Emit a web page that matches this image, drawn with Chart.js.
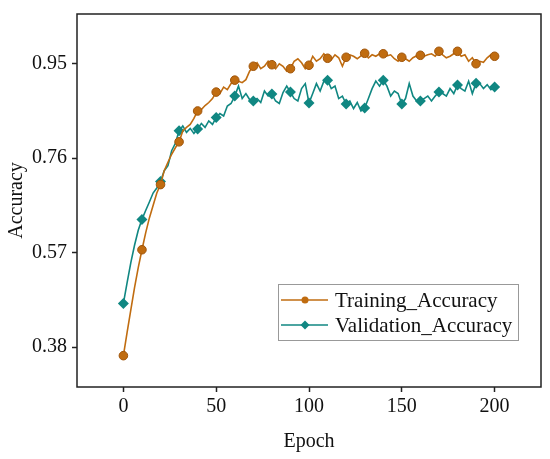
<!DOCTYPE html>
<html>
<head>
<meta charset="utf-8">
<script src="https://cdn.jsdelivr.net/npm/chart.js@4.4.1/dist/chart.umd.min.js"></script>
<style>
  body { margin: 0; background: #fff; }
  #wrap { width: 550px; height: 459px; }
</style>
</head>
<body>
<div id="wrap"><canvas id="accChart" width="550" height="459"></canvas></div>
<script>
// epochs sampled every 2, markers every 10
const epochs = [];
for (let e = 0; e <= 200; e += 2) epochs.push(e);

const trainAcc = [
  0.363, 0.41, 0.455, 0.50, 0.54, 0.576, 0.61, 0.64, 0.665, 0.69,
  0.707, 0.735, 0.752, 0.768, 0.781, 0.793, 0.815, 0.822, 0.828, 0.84,
  0.855, 0.858, 0.866, 0.872, 0.88, 0.893, 0.89, 0.903, 0.898, 0.91,
  0.917, 0.915, 0.912, 0.918, 0.935, 0.945, 0.952, 0.94, 0.945, 0.955,
  0.948, 0.94, 0.95, 0.945, 0.935, 0.94, 0.955, 0.96, 0.952, 0.94,
  0.947, 0.965, 0.955, 0.96, 0.97, 0.961, 0.958, 0.968, 0.962, 0.945,
  0.963, 0.968, 0.965, 0.96, 0.966, 0.971, 0.962, 0.968, 0.965, 0.97,
  0.970, 0.966, 0.968, 0.96, 0.955, 0.963, 0.96, 0.955, 0.962, 0.966,
  0.967, 0.965, 0.968, 0.97, 0.965, 0.975, 0.968, 0.962, 0.965, 0.97,
  0.975, 0.965, 0.968, 0.955, 0.962, 0.950, 0.955, 0.953, 0.962, 0.968,
  0.965
];

const valAcc = [
  0.468, 0.51, 0.55, 0.585, 0.615, 0.637, 0.655, 0.672, 0.69, 0.70,
  0.713, 0.735, 0.745, 0.775, 0.79, 0.815, 0.825, 0.812, 0.82, 0.81,
  0.819, 0.83, 0.822, 0.835, 0.828, 0.842, 0.85, 0.845, 0.865, 0.87,
  0.885, 0.905, 0.88, 0.89, 0.878, 0.875, 0.88, 0.872, 0.895, 0.885,
  0.889, 0.875, 0.87, 0.892, 0.905, 0.893, 0.88, 0.875, 0.90, 0.91,
  0.871, 0.89, 0.91, 0.895, 0.915, 0.917, 0.90, 0.905, 0.88, 0.885,
  0.869, 0.875, 0.86, 0.872, 0.855, 0.861, 0.88, 0.90, 0.915, 0.905,
  0.917, 0.905, 0.885, 0.895, 0.89, 0.869, 0.88, 0.91, 0.885, 0.875,
  0.875, 0.88, 0.885, 0.875, 0.885, 0.893, 0.89, 0.885, 0.90, 0.89,
  0.907, 0.90, 0.895, 0.915, 0.89, 0.911, 0.91, 0.90, 0.908, 0.898,
  0.903
];

const xTicks = [0, 50, 100, 150, 200];
const yTicks = [0.38, 0.57, 0.76, 0.95];

const orange = 'rgb(192, 108, 16)';
const teal = 'rgb(16, 135, 130)';
const serif = '"Liberation Serif", "Times New Roman", serif';

function toPoints(vals) {
  return epochs.map((e, i) => ({ x: e, y: vals[i] }));
}

function markerSize(r) {
  return ctx => (epochs[ctx.dataIndex] % 10 === 0 ? r : 0);
}

// frame around plot area
const frame = {
  id: 'frame',
  afterDraw(chart) {
    const { ctx, chartArea: a } = chart;
    ctx.save();
    ctx.strokeStyle = '#222';
    ctx.lineWidth = 1.5;
    ctx.strokeRect(a.left, a.top, a.right - a.left, a.bottom - a.top);
    ctx.restore();
  }
};

// legend drawn inside the plot, lower right
const innerLegend = {
  id: 'innerLegend',
  afterDraw(chart) {
    const ctx = chart.ctx;
    const bx = 278, by = 284, bw = 240, bh = 56;
    ctx.save();
    ctx.fillStyle = '#fff';
    ctx.fillRect(bx, by, bw, bh);
    ctx.strokeStyle = '#999';
    ctx.lineWidth = 1;
    ctx.strokeRect(bx + 0.5, by + 0.5, bw, bh);
    ctx.font = '21px ' + serif;
    ctx.textBaseline = 'middle';
    chart.data.datasets.forEach((ds, i) => {
      const y = by + 16 + i * 25;
      ctx.strokeStyle = ds.borderColor;
      ctx.lineWidth = 1.5;
      ctx.beginPath();
      ctx.moveTo(bx + 3, y);
      ctx.lineTo(bx + 50, y);
      ctx.stroke();
      ctx.fillStyle = ds.borderColor;
      ctx.beginPath();
      const cx = bx + 27;
      if (ds.pointStyle === 'rectRot') {
        ctx.moveTo(cx, y - 4.5);
        ctx.lineTo(cx + 4.5, y);
        ctx.lineTo(cx, y + 4.5);
        ctx.lineTo(cx - 4.5, y);
        ctx.closePath();
      } else {
        ctx.arc(cx, y, 3.5, 0, Math.PI * 2);
      }
      ctx.fill();
      ctx.fillStyle = '#111';
      ctx.fillText(ds.label, bx + 57, y + 1);
    });
    ctx.restore();
  }
};

new Chart(document.getElementById('accChart'), {
  type: 'line',
  data: {
    datasets: [
      {
        label: 'Training_Accuracy',
        data: toPoints(trainAcc),
        borderColor: orange,
        backgroundColor: orange,
        borderWidth: 1.6,
        pointStyle: 'circle',
        pointRadius: markerSize(4.3),
        pointBorderColor: 'rgb(160, 85, 10)',
        pointBorderWidth: 1,
        tension: 0
      },
      {
        label: 'Validation_Accuracy',
        data: toPoints(valAcc),
        borderColor: teal,
        backgroundColor: teal,
        borderWidth: 1.6,
        pointStyle: 'rectRot',
        pointRadius: markerSize(5.5),
        pointBorderWidth: 0,
        tension: 0
      }
    ]
  },
  options: {
    responsive: false,
    animation: false,
    layout: { padding: { top: 14, right: 9, left: 0, bottom: 0 } },
    plugins: {
      legend: { display: false },
      tooltip: { enabled: false }
    },
    scales: {
      x: {
        type: 'linear',
        min: -25,
        max: 225,
        afterBuildTicks: s => { s.ticks = xTicks.map(v => ({ value: v })); },
        afterFit: s => { s.height = 72; s.paddingLeft = 0; s.paddingRight = 0; },
        grid: {
          drawOnChartArea: false,
          drawTicks: true,
          tickLength: 5,
          tickWidth: 1.5,
          tickColor: '#222'
        },
        border: { display: false },
        ticks: {
          padding: 3,
          color: '#111',
          font: { family: serif, size: 20 },
          maxRotation: 0
        },
        title: {
          display: true,
          text: 'Epoch',
          color: '#111',
          font: { family: serif, size: 20 },
          padding: { top: 0, bottom: 5 }
        }
      },
      y: {
        type: 'linear',
        min: 0.30,
        max: 1.05,
        afterBuildTicks: s => { s.ticks = yTicks.map(v => ({ value: v })); },
        afterFit: s => { s.width = 77; s.paddingTop = 0; s.paddingBottom = 0; },
        grid: {
          drawOnChartArea: false,
          drawTicks: true,
          tickLength: 5,
          tickWidth: 1.5,
          tickColor: '#222'
        },
        border: { display: false },
        ticks: {
          padding: 5,
          color: '#111',
          font: { family: serif, size: 20 },
          callback: v => v.toFixed(2)
        },
        title: {
          display: true,
          text: 'Accuracy',
          color: '#111',
          font: { family: serif, size: 20 },
          padding: { top: 5, bottom: 0 }
        }
      }
    }
  },
  plugins: [frame, innerLegend]
});
</script>
</body>
</html>
